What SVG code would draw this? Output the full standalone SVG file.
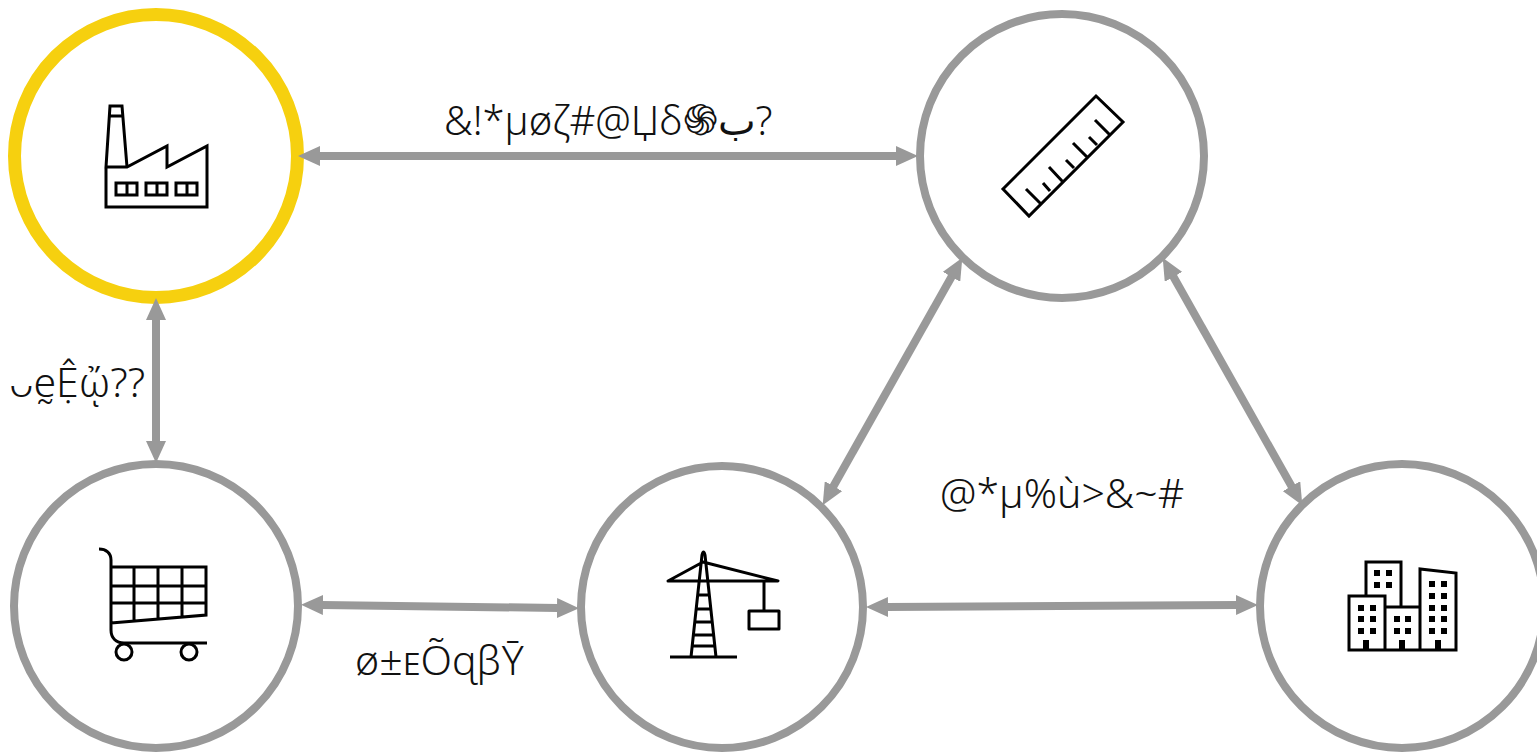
<svg xmlns="http://www.w3.org/2000/svg" width="1537" height="752" viewBox="0 0 1537 752">
<defs>
<marker id="a" markerUnits="userSpaceOnUse" viewBox="0 0 22 20" refX="1" refY="10" markerWidth="22" markerHeight="20" orient="auto-start-reverse"><path d="M22 10L0 0V20Z" fill="#999"/></marker>
</defs>
<style>
.n{fill:#fff;stroke:#999;stroke-width:8}
.i{fill:none;stroke:#000;stroke-width:3}
.c{fill:none;stroke:#999;stroke-width:8;marker-start:url(#a);marker-end:url(#a)}
text{font-family:"Noto Sans","DejaVu Sans",sans-serif;font-weight:300;font-size:41px;fill:#111}
.t{font-size:40px}
.s{font-size:43px;font-family:"DejaVu Sans",sans-serif;font-weight:400}
.b{font-family:"DejaVu Sans",sans-serif;font-weight:400}
</style>
<g id="factory"><circle cx="156" cy="156" r="141.500" fill="#fff" stroke="#f6d00f" stroke-width="13"/>
<path class="i" d="M106 167V207H207V146L167 167V146L127 167H106L110 106H122L127 167M109 116H123M116 183H137V195H116ZM127 183V195M146 183H167V195H146ZM157 183V195M176 183H197V195H176ZM187 183V195"/></g>
<g id="ruler"><circle class="n" cx="1062" cy="156" r="142"/>
<path class="i" d="M1096 96L1123 122L1029 216L1003 189ZM1026 189L1040 203M1043 183L1050 191M1049 167L1063 182M1066 160L1074 168M1073 143L1087 157M1089 137L1097 145M1095 120L1110 135"/></g>
<g id="cart"><circle class="n" cx="156" cy="606" r="142"/>
<path class="i" d="M99 549C106 549 111 553 111 560V630C111 638 116 643 124 643H207M111 567H206V615L111 623M111 586H206M111 603H206M134 567V621M158 567V619M182 567V617"/><circle class="i" cx="124" cy="652" r="8"/><circle class="i" cx="189" cy="652" r="8"/></g>
<g id="crane"><circle class="n" cx="722" cy="607" r="141"/>
<path class="i" stroke-linejoin="round" d="M691 657L702 555Q703.500 549 705 555L716 657M670 657H737M668 581L703 562L778 581ZM764 581V611M749 611H779V629H749ZM698 595H708M697 609H710M695 622H712M693 635H713M693 646H714"/></g>
<g id="city"><circle class="n" cx="1402" cy="606" r="142"/>
<path class="i" d="M1349 650V596H1385V650ZM1366 596V562H1401V607M1385 607H1420V650H1385M1420 650V569L1456 573V650Z"/>
<path d="M1374 570h6v6h-6zM1386 570h6v6h-6zM1374 582h6v6h-6zM1386 582h6v6h-6zM1358 605h6v6h-6zM1370 605h6v6h-6zM1358 616h6v6h-6zM1370 616h6v6h-6zM1358 628h6v6h-6zM1370 628h6v6h-6zM1394 616h6v6h-6zM1405 616h6v6h-6zM1394 628h6v6h-6zM1405 628h6v6h-6zM1429 581h6v6h-6zM1441 581h6v6h-6zM1429 593h6v6h-6zM1441 593h6v6h-6zM1429 605h6v6h-6zM1441 605h6v6h-6zM1429 616h6v6h-6zM1441 616h6v6h-6zM1429 628h6v6h-6zM1441 628h6v6h-6zM1363 640h6v10h-6zM1399 640h6v10h-6zM1435 640h6v10h-6z"/></g>
<g id="connectors">
<path class="c" d="M319 156H897"/>
<path class="c" d="M156 319V442"/>
<path class="c" d="M322 605L558 608"/>
<path class="c" d="M887 607L1237 605"/>
<path class="c" d="M952 276L833 487"/>
<path class="c" d="M1173 276L1292 487"/>
</g>
<text class="t" x="444" y="135">&amp;!*µøζ#@Џẟ<tspan class="s">֍</tspan><tspan class="b">ب</tspan>?</text>
<text x="9" y="397">ᴗḛỆᾤ??</text>
<text x="355" y="675">ø±ᴇÕɋꞵȲ</text>
<text x="940" y="508">@*µ%ù&gt;&amp;~#</text>
</svg>
